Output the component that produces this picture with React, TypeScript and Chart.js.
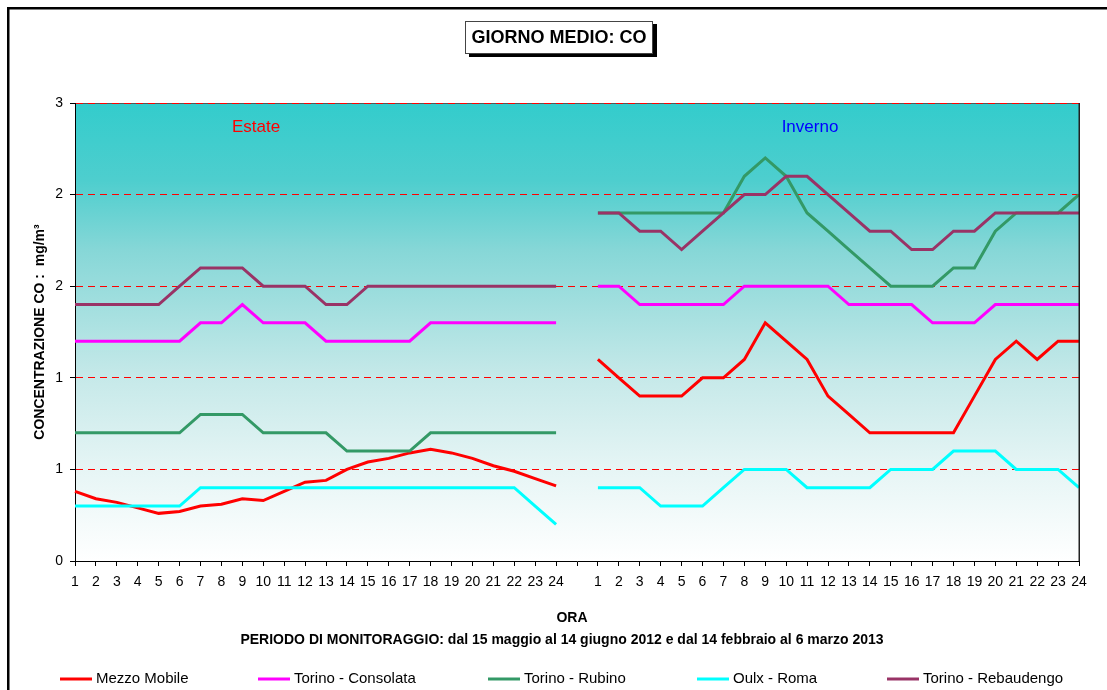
import { useEffect, useRef } from "react";
import { Chart, registerables } from "chart.js";

Chart.register(...registerables);

const FONT = "'Liberation Sans', Arial, Helvetica, sans-serif";

const HOURS = ["1", "2", "3", "4", "5", "6", "7", "8", "9", "10", "11", "12", "13", "14", "15", "16", "17", "18", "19", "20", "21", "22", "23", "24"];
const GAP_LABEL = "";

const SERIES_NAMES = ["Mezzo Mobile", "Torino - Consolata", "Torino - Rubino", "Oulx - Roma", "Torino - Rebaudengo"];
const SERIES_COLORS = ["#FF0000", "#FF00FF", "#339966", "#00FFFF", "#993366"];

// Estate (summer)
const MEZZO_EST = [0.38, 0.34, 0.32, 0.29, 0.26, 0.27, 0.30, 0.31, 0.34, 0.33, 0.38, 0.43, 0.44, 0.50, 0.54, 0.56, 0.59, 0.61, 0.59, 0.56, 0.52, 0.49, 0.45, 0.41];
const CONSOLATA_EST = [1.2, 1.2, 1.2, 1.2, 1.2, 1.2, 1.3, 1.3, 1.4, 1.3, 1.3, 1.3, 1.2, 1.2, 1.2, 1.2, 1.2, 1.3, 1.3, 1.3, 1.3, 1.3, 1.3, 1.3];
const RUBINO_EST = [0.7, 0.7, 0.7, 0.7, 0.7, 0.7, 0.8, 0.8, 0.8, 0.7, 0.7, 0.7, 0.7, 0.6, 0.6, 0.6, 0.6, 0.7, 0.7, 0.7, 0.7, 0.7, 0.7, 0.7];
const OULX_EST = [0.3, 0.3, 0.3, 0.3, 0.3, 0.3, 0.4, 0.4, 0.4, 0.4, 0.4, 0.4, 0.4, 0.4, 0.4, 0.4, 0.4, 0.4, 0.4, 0.4, 0.4, 0.4, 0.3, 0.2];
const REBAUDENGO_EST = [1.4, 1.4, 1.4, 1.4, 1.4, 1.5, 1.6, 1.6, 1.6, 1.5, 1.5, 1.5, 1.4, 1.4, 1.5, 1.5, 1.5, 1.5, 1.5, 1.5, 1.5, 1.5, 1.5, 1.5];

// Inverno (winter)
const MEZZO_INV = [1.1, 1.0, 0.9, 0.9, 0.9, 1.0, 1.0, 1.1, 1.3, 1.2, 1.1, 0.9, 0.8, 0.7, 0.7, 0.7, 0.7, 0.7, 0.9, 1.1, 1.2, 1.1, 1.2, 1.2];
const CONSOLATA_INV = [1.5, 1.5, 1.4, 1.4, 1.4, 1.4, 1.4, 1.5, 1.5, 1.5, 1.5, 1.5, 1.4, 1.4, 1.4, 1.4, 1.3, 1.3, 1.3, 1.4, 1.4, 1.4, 1.4, 1.4];
const RUBINO_INV = [1.9, 1.9, 1.9, 1.9, 1.9, 1.9, 1.9, 2.1, 2.2, 2.1, 1.9, 1.8, 1.7, 1.6, 1.5, 1.5, 1.5, 1.6, 1.6, 1.8, 1.9, 1.9, 1.9, 2.0];
const OULX_INV = [0.4, 0.4, 0.4, 0.3, 0.3, 0.3, 0.4, 0.5, 0.5, 0.5, 0.4, 0.4, 0.4, 0.4, 0.5, 0.5, 0.5, 0.6, 0.6, 0.6, 0.5, 0.5, 0.5, 0.4];
const REBAUDENGO_INV = [1.9, 1.9, 1.8, 1.8, 1.7, 1.8, 1.9, 2.0, 2.0, 2.1, 2.1, 2.0, 1.9, 1.8, 1.8, 1.7, 1.7, 1.8, 1.8, 1.9, 1.9, 1.9, 1.9, 1.9];

const Y_MIN = 0;
const Y_MAX = 2.5;
const Y_STEP = 0.5;

const TITLE = "GIORNO MEDIO: CO";
const X_TITLE = "ORA";
const SUBTITLE = "PERIODO DI MONITORAGGIO: dal 15 maggio al 14 giugno 2012 e dal 14 febbraio al 6 marzo 2013";
const Y_TITLE = "CONCENTRAZIONE CO :  mg/m\u00B3";
const SEASON_LABELS = ["Estate", "Inverno"];

const decor = {
  id: "decor",
  beforeDraw(chart: any) {
    const { ctx, chartArea: a } = chart;
    ctx.save();
    const g = ctx.createLinearGradient(0, a.top, 0, a.bottom);
    g.addColorStop(0, "#33CCCC");
    g.addColorStop(0.17, "#4ECECE");
    g.addColorStop(0.32, "#86D7D7");
    g.addColorStop(0.6, "#C6E9E9");
    g.addColorStop(0.8, "#E6F5F5");
    g.addColorStop(1, "#FFFFFF");
    ctx.fillStyle = g;
    ctx.fillRect(a.left, a.top, a.right - a.left, a.bottom - a.top);
    ctx.strokeStyle = "#555555";
    ctx.lineWidth = 1;
    ctx.beginPath();
    ctx.moveTo(a.left, Math.round(a.top) + 0.5);
    ctx.lineTo(a.right, Math.round(a.top) + 0.5);
    ctx.stroke();
    ctx.restore();
  },
  afterDraw(chart: any) {
    const { ctx, chartArea: a } = chart;
    ctx.save();
    // outer frame (left and top visible)
    ctx.fillStyle = "#000";
    ctx.fillRect(7, 7, 2.5, 700);
    ctx.fillRect(7, 7, 1110, 2.5);

    // right border of plot
    ctx.fillStyle = "#222";
    ctx.fillRect(a.right - 0.5, a.top, 1.5, a.bottom - a.top);

    // title box with shadow
    const bx = 465, by = 21, bw = 188, bh = 33;
    ctx.fillStyle = "#000";
    ctx.fillRect(bx + 4, by + 3, bw, bh);
    ctx.fillStyle = "#fff";
    ctx.fillRect(bx, by, bw, bh);
    ctx.strokeStyle = "#444";
    ctx.lineWidth = 1;
    ctx.strokeRect(bx + 0.5, by + 0.5, bw - 1, bh - 1);
    ctx.fillStyle = "#000";
    ctx.font = `bold 18px ${FONT}`;
    ctx.textAlign = "center";
    ctx.textBaseline = "middle";
    ctx.fillText(TITLE, bx + bw / 2, by + bh / 2 + 1);

    // season labels
    ctx.font = `17px ${FONT}`;
    ctx.fillStyle = "#FF0000";
    ctx.fillText(SEASON_LABELS[0], 256, 127);
    ctx.fillStyle = "#0000FF";
    ctx.fillText(SEASON_LABELS[1], 810, 127);

    // x title and subtitle
    ctx.fillStyle = "#000";
    ctx.font = `bold 14px ${FONT}`;
    ctx.fillText(X_TITLE, 572, 618);
    ctx.fillText(SUBTITLE, 562, 640);

    // y title
    ctx.save();
    ctx.translate(40, 332);
    ctx.rotate(-Math.PI / 2);
    ctx.font = `bold 14px ${FONT}`;
    ctx.fillText(Y_TITLE, 0, 0);
    ctx.restore();

    // legend
    const lx = [60, 258, 488, 697, 887];
    const ly = 679;
    ctx.font = `15px ${FONT}`;
    ctx.textAlign = "left";
    chart.data.datasets.forEach((ds: any, i: number) => {
      ctx.strokeStyle = ds.borderColor;
      ctx.lineWidth = 3;
      ctx.beginPath();
      ctx.moveTo(lx[i], ly);
      ctx.lineTo(lx[i] + 32, ly);
      ctx.stroke();
      ctx.fillStyle = "#000";
      ctx.fillText(ds.label, lx[i] + 36, ly);
    });
    ctx.restore();
  },
};

export default function App() {
  const ref = useRef<HTMLCanvasElement>(null);
  useEffect(() => {
    if (!ref.current) return;
    const labels = [...HOURS, GAP_LABEL, ...HOURS];
    const join = (a: number[], b: number[]) => [...a, null, ...b];
    const est = [MEZZO_EST, CONSOLATA_EST, RUBINO_EST, OULX_EST, REBAUDENGO_EST];
    const inv = [MEZZO_INV, CONSOLATA_INV, RUBINO_INV, OULX_INV, REBAUDENGO_INV];
    const datasets = SERIES_NAMES.map((name, i) => ({
      label: name,
      data: join(est[i], inv[i]),
      borderColor: SERIES_COLORS[i],
      backgroundColor: SERIES_COLORS[i],
      borderWidth: 3,
      pointRadius: 0,
      tension: 0,
      fill: false,
      spanGaps: false,
      order: SERIES_NAMES.length - i,
    }));
    const chart = new Chart(ref.current, {
      type: "line",
      data: { labels, datasets },
      options: {
        responsive: false,
        animation: false,
        events: [],
        layout: { padding: { left: 0, right: 28, top: 103, bottom: 89 } },
        plugins: { legend: { display: false }, title: { display: false }, tooltip: { enabled: false } },
        scales: {
          x: {
            type: "category",
            offset: false,
            grid: { drawOnChartArea: false, drawTicks: true, tickLength: 5, tickColor: "#000" },
            border: { display: true, color: "#000", width: 1 },
            ticks: { autoSkip: false, maxRotation: 0, minRotation: 0, padding: 8, color: "#000", font: { family: FONT, size: 14 } },
            afterFit: (s: any) => { s.height = 40; },
          },
          y: {
            min: Y_MIN,
            max: Y_MAX,
            grid: {
              color: (c: any) => (c.tick && c.tick.value === 0 ? "rgba(0,0,0,0)" : "#FF0000"),
              lineWidth: 1,
              drawTicks: true,
              tickLength: 5,
              tickColor: "#000",
            },
            border: { display: true, color: "#000", width: 1, dash: [7, 5] },
            ticks: {
              stepSize: Y_STEP,
              padding: 7,
              color: "#000",
              font: { family: FONT, size: 14 },
              callback: (v: any) => String(Math.round(Number(v))),
            },
            afterFit: (s: any) => { s.width = 75; },
          },
        },
      } as any,
      plugins: [decor],
    });
    return () => chart.destroy();
  }, []);
  return (
    <div style={{ position: "fixed", left: 0, top: 0, width: 1107, height: 690, background: "#fff" }}>
      <canvas ref={ref} width={1107} height={690} style={{ display: "block" }} />
    </div>
  );
}
